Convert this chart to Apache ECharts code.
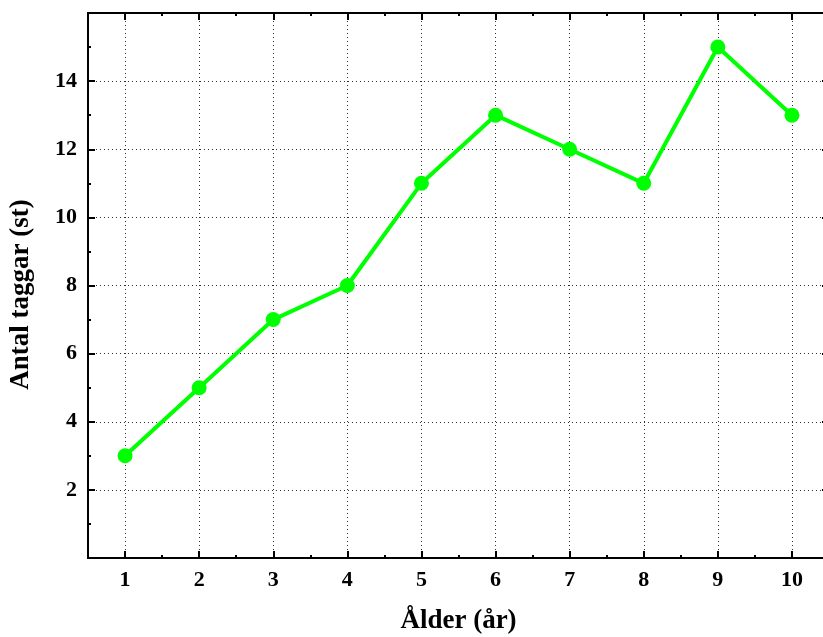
<!DOCTYPE html>
<html>
<head>
<meta charset="utf-8">
<script src="https://cdn.jsdelivr.net/npm/echarts@6/dist/echarts.min.js"></script>
<style>html,body{margin:0;padding:0;background:#fff}#c{width:823px;height:637px}</style>
</head>
<body>
<div id="c"></div>
<script>
const ages = [1, 2, 3, 4, 5, 6, 7, 8, 9, 10];
const counts = [3, 5, 7, 8, 11, 13, 12, 11, 15, 13];
const xMajor = [1, 2, 3, 4, 5, 6, 7, 8, 9, 10];
const xMinor = [1.5, 2.5, 3.5, 4.5, 5.5, 6.5, 7.5, 8.5, 9.5];
const xTitle = 'Ålder (år)';
const yTitle = 'Antal taggar (st)';

const font = 'Liberation Serif';
const axisLine = {show: true, onZero: false, lineStyle: {color: '#000', width: 2}};
const chart = echarts.init(document.getElementById('c'));

function xAx(pos, ticks, len, labels, split) {
  return {
    type: 'value', position: pos, min: 0.5, max: 10.5,
    axisLine: axisLine,
    axisTick: {show: true, inside: true, length: len, customValues: ticks, lineStyle: {color: '#000', width: 2}},
    axisLabel: labels ? {show: true, customValues: ticks, color: '#000', fontFamily: font, fontWeight: 'bold', fontSize: 22, margin: 11} : {show: false},
    splitLine: split ? {show: true, lineStyle: {color: '#333', type: [1, 3], width: 1}} : {show: false},
    name: labels ? xTitle : '', nameLocation: 'middle', nameGap: 50,
    nameTextStyle: {color: '#000', fontFamily: font, fontWeight: 'bold', fontSize: 27}
  };
}
function yAx(pos, main) {
  return {
    type: 'value', position: pos, min: 0, max: 16, interval: 2,
    axisLine: axisLine,
    axisTick: {show: true, inside: true, length: 7, lineStyle: {color: '#000', width: 2}},
    minorTick: {show: true, splitNumber: 2, length: 3, lineStyle: {color: '#000', width: 2}},
    axisLabel: main ? {show: true, color: '#000', fontFamily: font, fontWeight: 'bold', fontSize: 22, margin: 11,
      formatter: v => (v === 0 || v === 16) ? '' : String(v)} : {show: false},
    splitLine: main ? {show: true, lineStyle: {color: '#333', type: [1, 3], width: 1}} : {show: false},
    name: main ? yTitle : '', nameLocation: 'middle', nameGap: 53,
    nameTextStyle: {color: '#000', fontFamily: font, fontWeight: 'bold', fontSize: 27, padding: [0, 18, 0, 0]}
  };
}

chart.setOption({
  animation: false,
  backgroundColor: '#fff',
  grid: {left: 88, top: 13, width: 741, bottom: 79, containLabel: false, outerBoundsMode: 'none'},
  xAxis: [
    xAx('bottom', xMajor, 7, true, true),
    xAx('bottom', xMinor, 3, false, false),
    xAx('top', xMajor, 7, false, false),
    xAx('top', xMinor, 3, false, false)
  ],
  yAxis: [yAx('left', true), yAx('right', false)],
  series: [{
    type: 'line',
    xAxisIndex: 0, yAxisIndex: 0,
    data: ages.map((a, i) => [a, counts[i]]),
    symbol: 'circle', symbolSize: 15,
    itemStyle: {color: '#00ff00'},
    lineStyle: {color: '#00ff00', width: 4}
  }]
});
</script>
</body>
</html>
